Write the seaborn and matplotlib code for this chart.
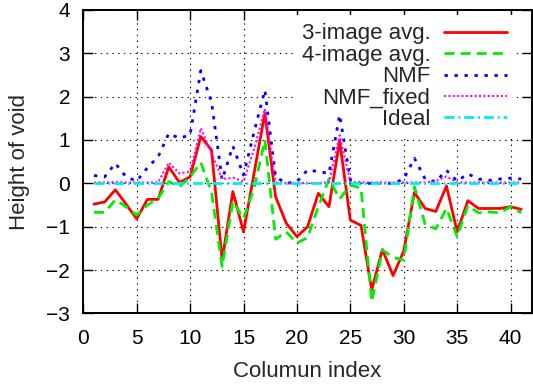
import matplotlib
matplotlib.use("Agg")
import matplotlib.pyplot as plt
import seaborn as sns
import numpy as np
import pandas as pd

# ---------------- data ----------------
columns = list(range(1, 42))

avg3 = [-0.48, -0.43, -0.15, -0.48, -0.82, -0.37, -0.37, 0.38, 0.02, 0.15,
        1.08, 0.77, -1.77, -0.19, -1.12, 0.25, 1.62, -0.31, -0.92, -1.23,
        -1.00, -0.23, -0.54, 0.98, -0.85, -0.97, -2.46, -1.53, -2.13, -1.56,
        -0.21, -0.58, -0.65, -0.06, -1.12, -0.40, -0.58, -0.58, -0.58, -0.54,
        -0.60]

avg4 = [-0.67, -0.67, -0.38, -0.54, -0.73, -0.50, -0.35, 0.04, -0.08, 0.15,
        0.48, -0.20, -1.92, -0.42, -0.81, -0.10, 1.00, -1.29, -1.12, -1.38,
        -1.25, -0.54, 0.10, -0.36, -0.04, -0.11, -2.73, -1.54, -1.71, -1.77,
        -0.08, -0.94, -1.05, -0.58, -1.23, -0.52, -0.68, -0.66, -0.68, -0.54,
        -0.68]

nmf = [0.18, 0.15, 0.46, 0.15, 0.05, 0.36, 0.61, 1.15, 1.04, 1.12,
       2.60, 1.88, 0.08, 0.86, 0.19, 1.20, 2.15, 0.15, 0.00, 0.04,
       0.31, 0.27, 0.23, 1.58, 0.08, 0.00, 0.00, 0.00, 0.00, 0.10,
       0.58, 0.10, 0.04, 0.30, 0.05, 0.22, 0.10, 0.07, 0.10, 0.12,
       0.10]

nmf_fixed = [0.02, 0.02, 0.03, 0.02, 0.02, 0.02, 0.02, 0.48, 0.23, 0.27,
             1.27, 0.70, 0.10, 0.13, 0.04, 0.80, 1.72, 0.02, 0.00, 0.00,
             0.01, 0.01, 0.02, 1.11, 0.03, 0.02, 0.02, 0.02, 0.02, 0.02,
             0.02, 0.02, 0.05, 0.16, 0.02, 0.02, 0.02, 0.02, 0.02, 0.02,
             0.02]

ideal = [0.0] * 41

series_names = ["3-image avg.", "4-image avg.", "NMF", "NMF_fixed", "Ideal"]
x_ticks = [0, 5, 10, 15, 20, 25, 30, 35, 40]
y_ticks = [-3, -2, -1, 0, 1, 2, 3, 4]

# ---------------- style ----------------
sns.set_style("white")
plt.rcParams["font.family"] = ["Liberation Sans", "DejaVu Sans"]
FS = 16
TFS = 15

fig = plt.figure(figsize=(5.33, 3.84), dpi=100)
ax = fig.add_axes([0.1563, 0.184, 0.998 - 0.1563, 0.974 - 0.184])

styles = [
    ("#ff0000", 2.0, "-"),
    ("#00ee00", 2.0, (0, (3.6, 2.2))),
    ("#0000ff", 2.0, (0, (1.2, 2.4))),
    ("#ff00ff", 1.5, (0, (1.0, 1.1))),
    ("#00eeee", 2.0, (0, (3.6, 1.4, 0.7, 1.4))),
]
all_values = [avg3, avg4, nmf, nmf_fixed, ideal]

for name, vals, (col, lw, ls) in zip(series_names, all_values, styles):
    sns.lineplot(x=columns, y=vals, ax=ax, color=col, linewidth=lw,
                 linestyle=ls, label=name)

ax.set_xlim(0, 42)
ax.set_ylim(-3, 4)
ax.set_xticks(x_ticks)
ax.set_yticks(y_ticks)

ax.set_axisbelow(True)
ax.grid(True, color="black", linestyle=(0, (1.2, 4.0)), linewidth=0.8)

for sp in ax.spines.values():
    sp.set_visible(True)
    sp.set_color("black")
    sp.set_linewidth(1.4)

ax.tick_params(axis="both", which="major", direction="in", length=7, width=1.0,
               top=True, right=True, bottom=True, left=True,
               labelsize=TFS, colors="black")
ax.tick_params(axis="y", pad=9.5)
ax.tick_params(axis="x", pad=11.0)

ax.set_xlabel("Columun index", fontsize=FS)
ax.set_ylabel("Height of void", fontsize=FS)
ax.xaxis.set_label_coords(0.5, -0.158)
ax.yaxis.set_label_coords(-0.119, 0.5)

leg = ax.legend(loc="upper right", bbox_to_anchor=(0.9645, 0.985),
                borderaxespad=0, borderpad=0.4, markerfirst=False,
                frameon=True, facecolor="white", edgecolor="none",
                framealpha=1, fontsize=FS, handlelength=2.85,
                handletextpad=0.6, labelspacing=0.02)
# key sits above the grid but below the data curves
leg.set_zorder(1.5)

fig.savefig("out.png", dpi=100)
